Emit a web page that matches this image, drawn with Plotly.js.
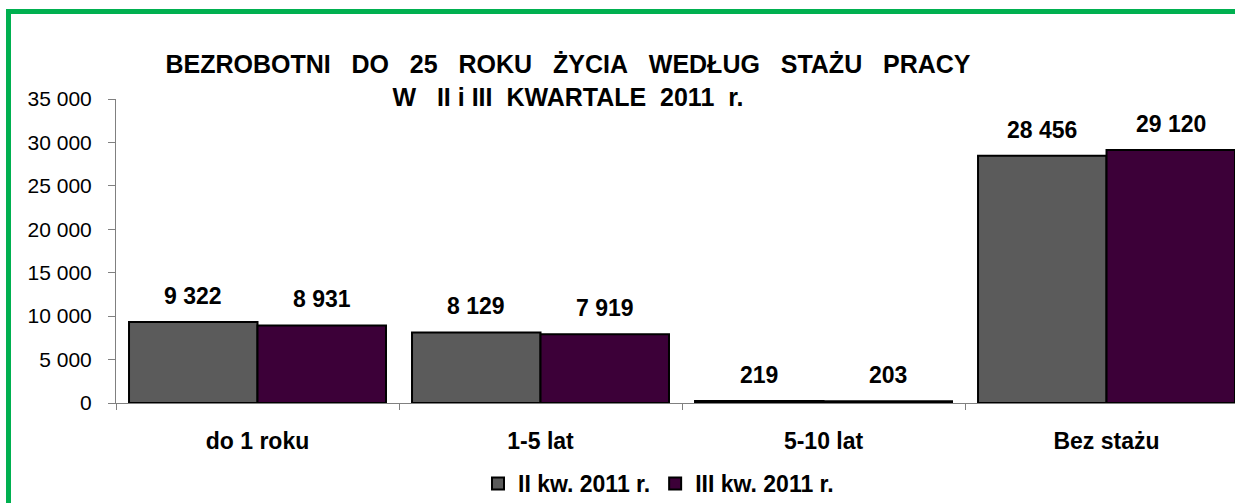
<!DOCTYPE html>
<html>
<head>
<meta charset="utf-8">
<script src="https://cdn.plot.ly/plotly-3.0.1.min.js"></script>
<style>
  html, body { margin: 0; padding: 0; background: #ffffff; overflow: hidden; }
  #frame { position: absolute; left: 6px; top: 9px; width: 1240px; height: 520px;
           border-left: 5px solid #00b050; border-top: 5px solid #00b050; box-sizing: border-box; z-index: 0; }
  #chart { position: absolute; left: 0; top: 0; width: 1235px; height: 503px; z-index: 1; }
</style>
</head>
<body>
<div id="frame"></div>
<div id="chart"></div>
<script>
const categories = ["do 1 roku", "1-5 lat", "5-10 lat", "Bez stażu"];
const seriesNames = ["II kw. 2011 r.", "III kw. 2011 r."];
const q2Values = [9322, 8129, 219, 28456];
const q3Values = [8931, 7919, 203, 29120];
const yTickVals = [0, 5000, 10000, 15000, 20000, 25000, 30000, 35000];
const yTickText = ["0", "5 000", "10 000", "15 000", "20 000", "25 000", "30 000", "35 000"];

const colors = ["#5b5b5b", "#3c0038"];
const FONT = "Liberation Sans, Arial, sans-serif";
const bargap = 0.092;
const S3 = "\u00a0\u00a0 ", S2 = "\u00a0 ";

function fmt(v) {
  return String(v).replace(/\B(?=(\d{3})+(?!\d))/g, " ");
}

const allSeries = [q2Values, q3Values];
const traces = allSeries.map((vals, i) => ({
  type: "bar",
  name: seriesNames[i],
  x: categories,
  y: vals,
  marker: { color: colors[i], line: { color: "#000000", width: 2 } },
  hoverinfo: "none"
}));

const barW = (1 - bargap) / allSeries.length;
const annotations = [];
allSeries.forEach((vals, i) => {
  vals.forEach((v, j) => {
    annotations.push({
      x: j - (1 - bargap) / 2 + barW * (i + 0.5),
      y: v,
      xref: "x", yref: "y",
      text: "<b>" + fmt(v) + "</b>",
      showarrow: false,
      yanchor: "bottom",
      yshift: 11,
      font: { family: FONT, size: 23, color: "#000000" }
    });
  });
});

const titleLine1 = ["BEZROBOTNI", "DO", "25", "ROKU", "ŻYCIA", "WEDŁUG", "STAŻU", "PRACY"].join(S3);
const titleLine2 = "W" + S3 + "II i III" + S2 + "KWARTALE" + S2 + "2011" + S2 + "r.";

const layout = {
  width: 1235, height: 503,
  margin: { l: 116, r: 0, t: 99, b: 100, pad: 0, autoexpand: false },
  paper_bgcolor: "rgba(0,0,0,0)",
  plot_bgcolor: "rgba(0,0,0,0)",
  barmode: "group",
  bargap: bargap,
  bargroupgap: 0,
  title: {
    text: "<b>" + titleLine1 + "</b><br><b>" + titleLine2 + "</b>",
    font: { family: FONT, size: 25, color: "#000000" },
    x: 568 / 1235, xanchor: "center", xref: "container",
    y: 1 - 73 / 503, yanchor: "top", yref: "container"
  },
  xaxis: {
    type: "category",
    range: [-0.5, 3.454],
    showline: true, linecolor: "#808080", linewidth: 1,
    ticks: "outside", tickson: "boundaries", ticklen: 6, tickcolor: "#808080",
    showgrid: false, zeroline: false,
    tickfont: { family: FONT, size: 23, color: "#000000" },
    ticklabelstandoff: 17,
    tickvals: categories,
    ticktext: categories.map(c => "<b>" + c + "</b>"),
    fixedrange: true
  },
  yaxis: {
    range: [0, 35000],
    tickvals: yTickVals, ticktext: yTickText,
    showline: true, linecolor: "#808080", linewidth: 1,
    ticks: "outside", ticklen: 7, tickcolor: "#808080",
    showgrid: false, zeroline: false,
    tickfont: { family: FONT, size: 21, color: "#000000" },
    ticklabelstandoff: 12,
    fixedrange: true
  },
  showlegend: true,
  legend: {
    orientation: "h",
    x: (478 - 116) / 1119, xanchor: "left",
    y: -0.194, yanchor: "top",
    font: { family: FONT, size: 23, color: "#000000", weight: "bold" },
    itemwidth: 30,
    traceorder: "normal",
    bgcolor: "rgba(0,0,0,0)"
  },
  annotations: annotations
};

Plotly.newPlot("chart", traces, layout, { displayModeBar: false, staticPlot: true });
</script>
</body>
</html>
